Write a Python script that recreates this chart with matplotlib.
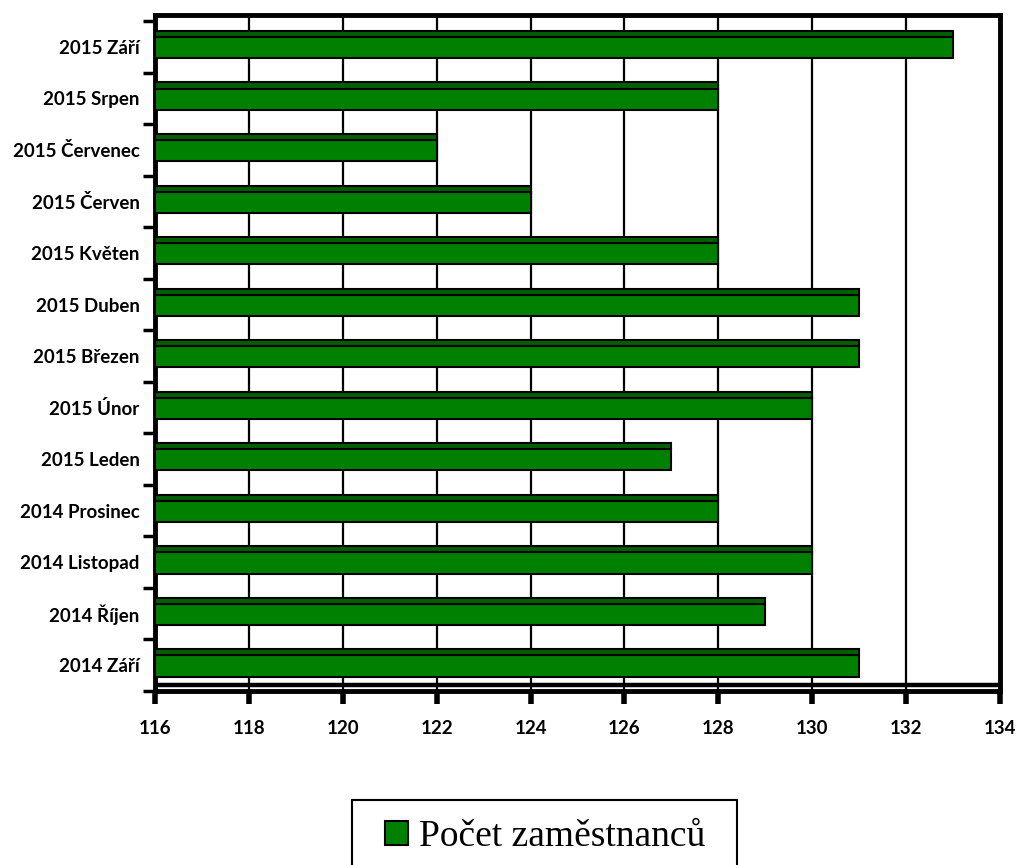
import matplotlib
matplotlib.use("Agg")
import matplotlib.pyplot as plt
from matplotlib.patches import Patch, Rectangle
import numpy as np

# data, bottom to top
months = ["2014 Září", "2014 Říjen", "2014 Listopad", "2014 Prosinec",
          "2015 Leden", "2015 Únor", "2015 Březen", "2015 Duben",
          "2015 Květen", "2015 Červen", "2015 Červenec", "2015 Srpen",
          "2015 Září"]
employees = [131, 129, 130, 128, 127, 130, 131, 131, 128, 124, 122, 128, 133]
x_ticks = [116, 118, 120, 122, 124, 126, 128, 130, 132, 134]
legend_label = "Počet zaměstnanců"

front_color = "#008000"
top_color = "#006000"
x_min = x_ticks[0]

fig = plt.figure(figsize=(10.19, 8.65), dpi=100)
ax = fig.add_axes([155 / 1019, 1 - 691 / 865, 845 / 1019, 676 / 865])

pos = np.arange(len(months))
widths = [v - x_min for v in employees]

# vertical gridlines behind the bars
ax.set_axisbelow(True)
ax.xaxis.grid(True, color="black", linewidth=1.6)

# front face of the 3D bars + thin top face
ax.barh(pos + 0.28, widths, height=0.41, left=x_min, align="edge",
        color=front_color, edgecolor="black", linewidth=1.5, zorder=3)
ax.barh(pos + 0.69, widths, height=0.12, left=x_min, align="edge",
        color=top_color, edgecolor="black", linewidth=1.5, zorder=3)

# floor edge
ax.axhline(0.126, color="black", linewidth=3.2, zorder=4)

ax.set_xlim(x_min, x_ticks[-1])
ax.set_ylim(0, 13.12)

ax.set_xticks(x_ticks)
ax.set_xticklabels([str(t) for t in x_ticks], fontfamily="Lato",
                   fontweight="bold", fontsize=13.5)
ax.tick_params(axis="x", direction="out", length=9, width=4, pad=12)

ax.set_yticks(np.arange(len(months) + 1))
ax.set_yticklabels([])
ax.set_yticks(pos + 0.5, minor=True)
ax.set_yticklabels(months, minor=True, fontfamily="Lato",
                   fontweight="bold", fontsize=13.5)
ax.tick_params(axis="y", which="major", direction="out", length=9, width=2.5)
ax.tick_params(axis="y", which="minor", length=0, pad=11)

for side in ["left", "right", "top", "bottom"]:
    ax.spines[side].set_linewidth(3.5)
    ax.spines[side].set_color("black")

# legend (box is cut by the lower edge of the image, like the original)
fig.patches.append(Rectangle((352 / 1019, -10 / 865), 385 / 1019, 75 / 865,
                             transform=fig.transFigure, facecolor="white",
                             edgecolor="black", linewidth=1.5))
handle = Patch(facecolor=front_color, edgecolor="black", linewidth=1.5)
fig.legend([handle], [legend_label], loc="center",
           bbox_to_anchor=(545 / 1019, 1 - 837 / 865), frameon=False,
           prop={"family": "Liberation Serif", "size": 27},
           handlelength=0.62, handleheight=0.62, handletextpad=0.28)

fig.savefig("out.png", dpi=100)
